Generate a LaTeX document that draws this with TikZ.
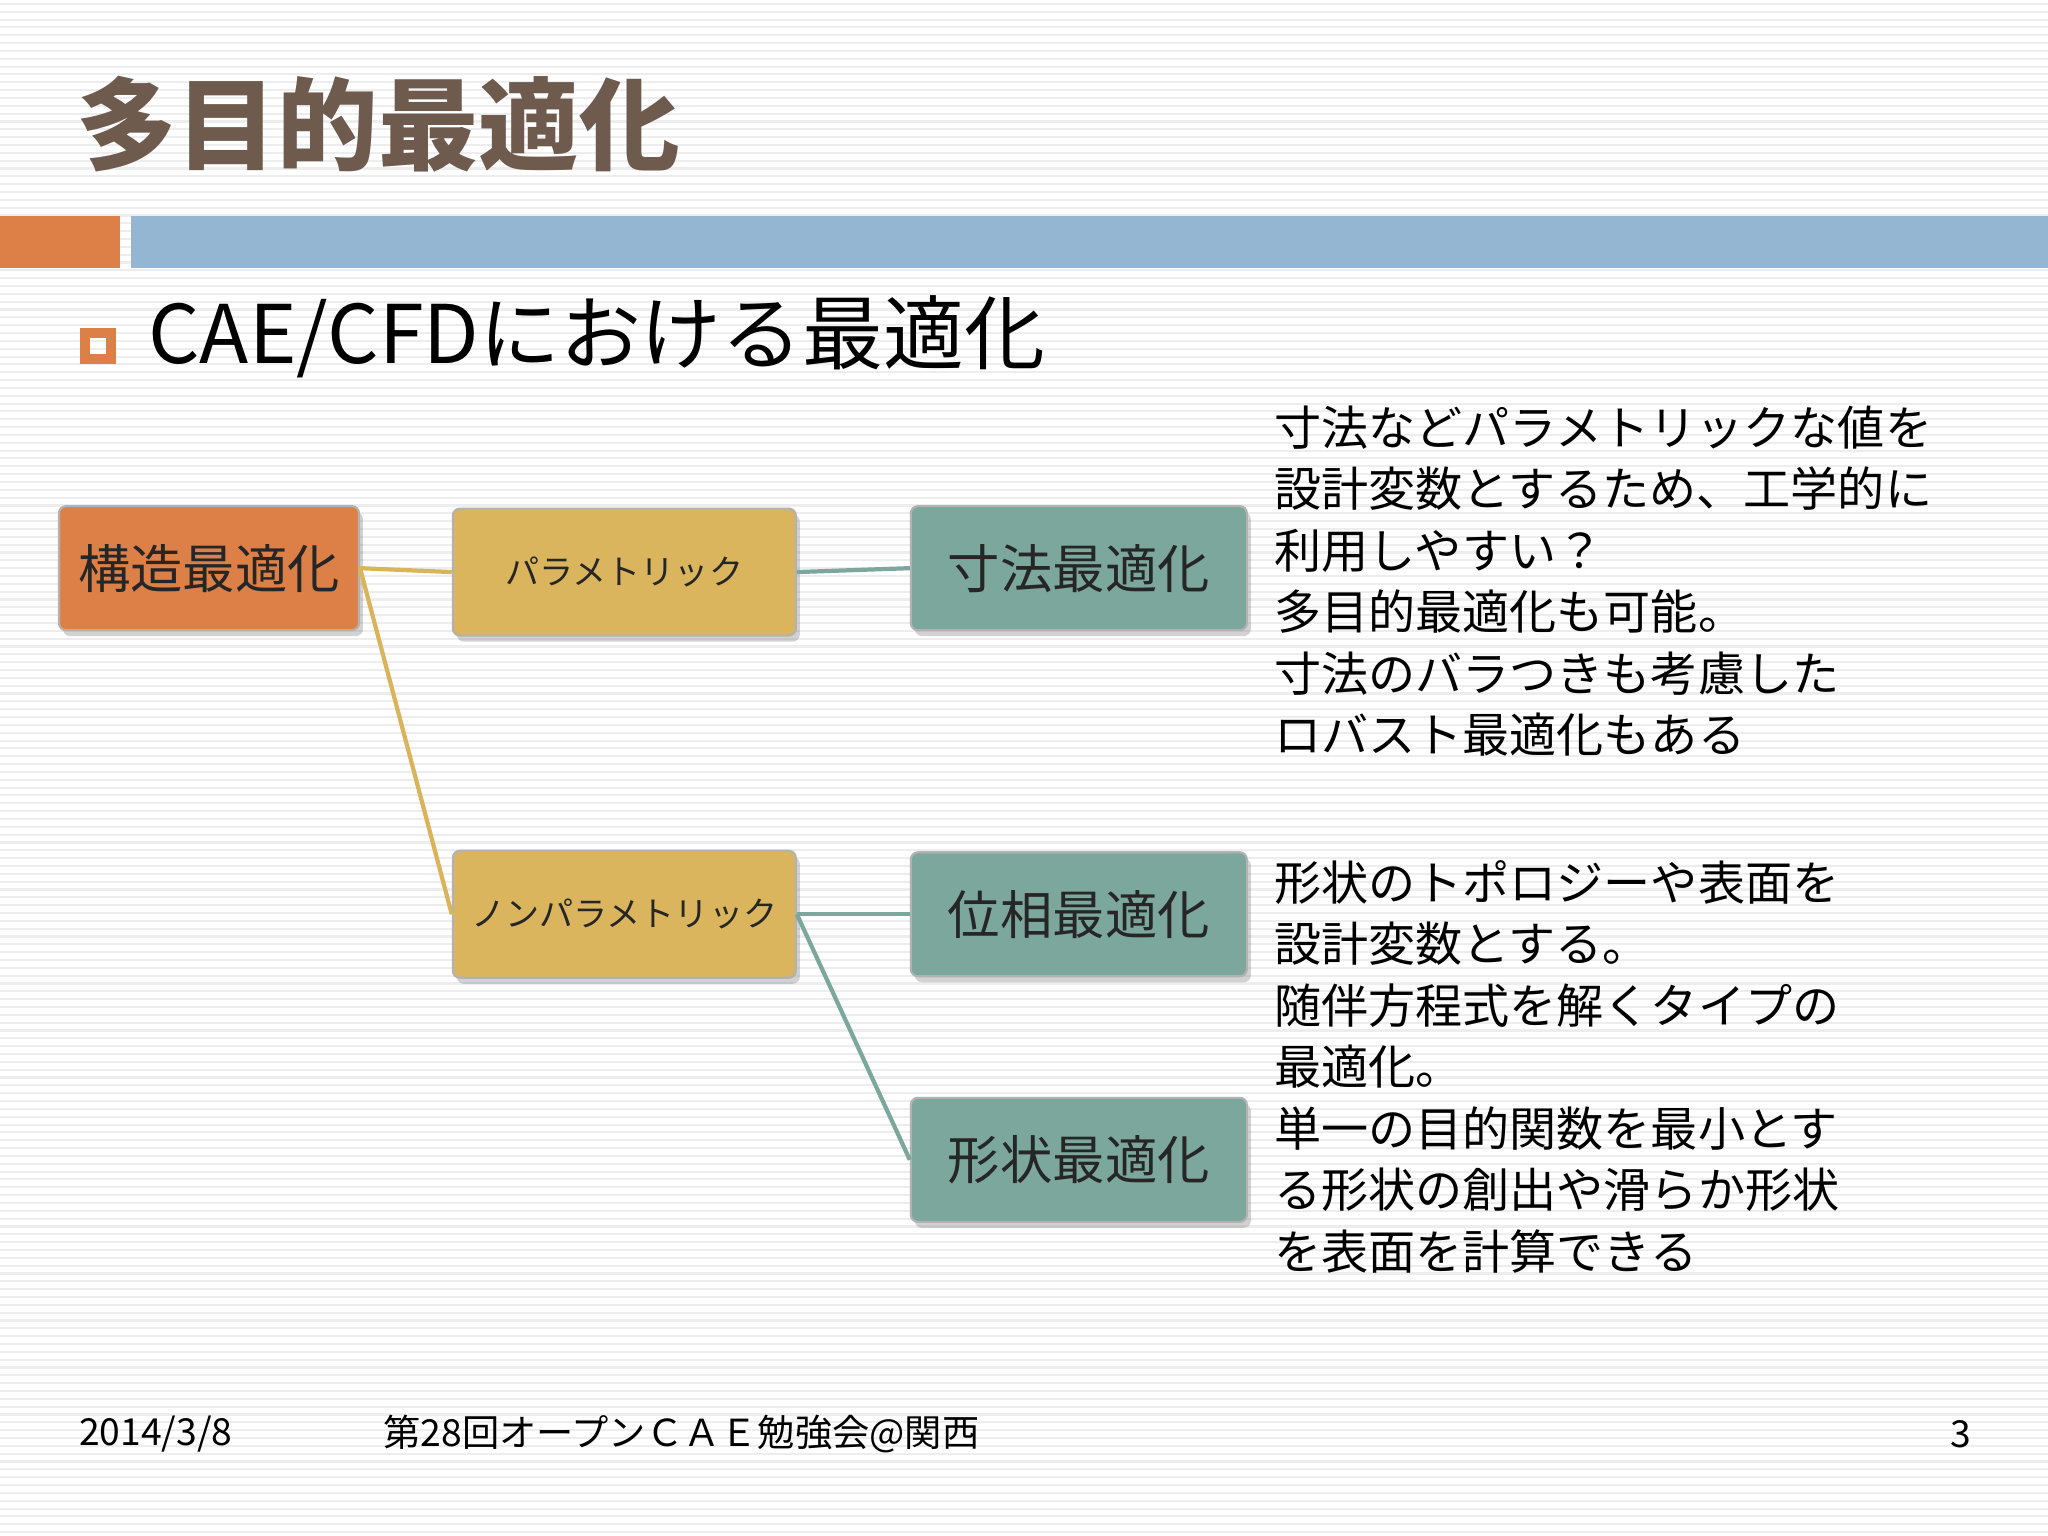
\documentclass[tikz,border=0pt]{standalone}
\usepackage{fontspec}
\usepackage{xcolor}
\usetikzlibrary{positioning,shadows}
\setmainfont{Noto Sans CJK JP}
\newfontfamily\cjk{Noto Sans CJK JP}
\definecolor{titlebrown}{HTML}{6F5B4E}
\definecolor{barorange}{HTML}{DD8047}
\definecolor{barblue}{HTML}{94B6D2}
\definecolor{boxgold}{HTML}{DAB55E}
\definecolor{boxteal}{HTML}{7BA79D}
\definecolor{linegold}{HTML}{D9B45A}
\definecolor{lineteal}{HTML}{7BA79D}
\tikzset{
  box/.style={draw=white!70!black, line width=0.6pt, rounded corners=2pt,
    drop shadow={opacity=0.35, shadow xshift=0.04cm, shadow yshift=-0.06cm},
    text=black!85, inner sep=0pt, align=center},
  rootbox/.style={box, fill=barorange, minimum width=3.0cm, minimum height=1.24cm,
    font=\fontsize{14.9}{18}\selectfont},
  kindbox/.style={box, fill=boxgold, minimum width=3.43cm, minimum height=1.27cm,
    font=\fontsize{9.7}{12}\selectfont},
  methbox/.style={box, fill=boxteal, minimum width=3.36cm, minimum height=1.24cm,
    font=\fontsize{14.9}{18}\selectfont},
  note/.style={anchor=north west, inner sep=0pt, align=left, text=black,
    font=\fontsize{13.4}{17.5}\selectfont},
  foot/.style={anchor=west, inner sep=0pt, text=black, font=\fontsize{10.6}{12}\selectfont}
}
\begin{document}
\begin{tikzpicture}[x=0.013061cm, y=-0.013061cm]
    \useasboundingbox (0,0) rectangle (1568,1176);
    % Striped background
    \fill[white] (0,0) rectangle (1568,1176);
    \foreach \y in {3,9,...,1173}
        \draw[black!7, line width=0.6pt] (0,\y) -- (1568,\y);

    % Title and bars
    \node[anchor=west, inner sep=0pt, text=titlebrown, font=\fontsize{28.6}{32}\bfseries\selectfont] (title) at (58,95) {多目的最適化};
    \fill[barorange] (0,165) rectangle (92,205);
    \fill[barblue] (100,165) rectangle (1568,205);

    % Bullet
    \draw[barorange, line width=3pt] (65,255) rectangle (85,275);
    \node[anchor=west, inner sep=0pt, font=\fontsize{23}{26}\selectfont] (head) at (113,258) {CAE/CFDにおける最適化};

    % Boxes
    \node[rootbox] (struct) at (160,435) {構造最適化};
    \node[kindbox] (param) at (478,438) {パラメトリック};
    \node[kindbox] (nonparam) at (478,700) {ノンパラメトリック};
    \node[methbox] (size) at (826,435) {寸法最適化};
    \node[methbox] (topo) at (826,700) {位相最適化};
    \node[methbox] (shape) at (826,888) {形状最適化};

    % Connectors
    \draw[linegold, line width=1.2pt] (struct.east) -- (param.west);
    \draw[linegold, line width=1.2pt] (struct.east) -- (nonparam.west);
    \draw[lineteal, line width=1.2pt] (param.east) -- (size.west);
    \draw[lineteal, line width=1.2pt] (nonparam.east) -- (topo.west);
    \draw[lineteal, line width=1.2pt] (nonparam.east) -- (shape.west);

    % Notes
    \node[note] (note1) at (975,310) {寸法などパラメトリックな値を\\設計変数とするため、工学的に\\利用しやすい？\\多目的最適化も可能。\\寸法のバラつきも考慮した\\ロバスト最適化もある};
    \node[note] (note2) at (975,658) {形状のトポロジーや表面を\\設計変数とする。\\随伴方程式を解くタイプの\\最適化。\\単一の目的関数を最小とす\\る形状の創出や滑らか形状\\を表面を計算できる};

    % Footer
    \node[foot] (date) at (60,1098) {2014/3/8};
    \node[foot] (event) at (293,1098) {第28回オープンＣＡＥ勉強会@関西};
    \node[foot] (page) at (1493,1098) {3};
\end{tikzpicture}
\end{document}
